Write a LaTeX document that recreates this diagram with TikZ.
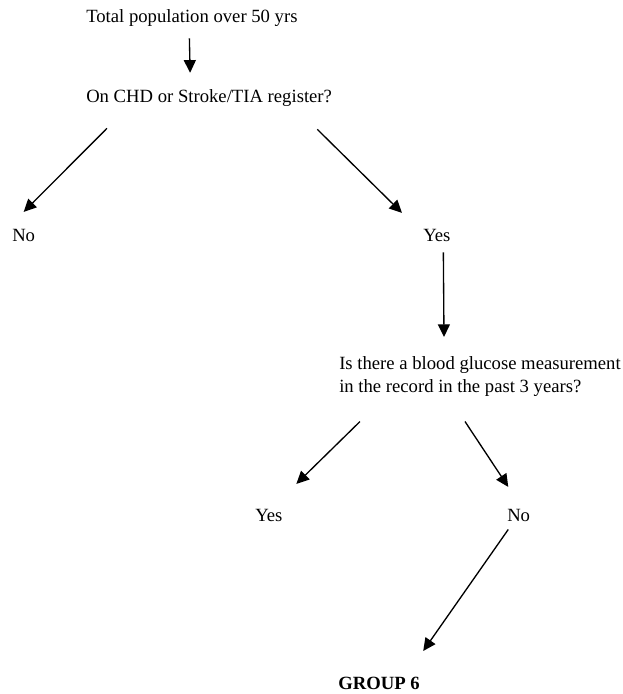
\documentclass[tikz,border=0pt]{standalone}
\usepackage{fontspec}
\setmainfont{Liberation Serif}
\usetikzlibrary{arrows.meta,calc}
\tikzstyle{txt}=[inner sep=0pt, anchor=base west, font=\fontsize{14}{17.25}\selectfont]
\tikzstyle{edge}=[line width=1pt, -{Triangle[length=9.5pt, width=9pt]}]

\begin{document}
\begin{tikzpicture}[x=0.75pt, y=-0.75pt]
            \useasboundingbox (0,0) rectangle (623,694);
            \node[txt] (top) at (86,22) {Total population over 50 yrs};
            \node[txt] (reg) at (86,102) {On CHD or Stroke/TIA register?};
            \node[txt] (no1) at (12,241) {No};
            \node[txt] (yes1) at (423,241) {Yes};
            \node[txt, anchor=north west, align=left] (glu) at (339,356) {Is there a blood glucose measurement\\in the record in the past 3 years?};
            \node[txt] (yes2) at (255,521) {Yes};
            \node[txt] (no2) at (507,521) {No};
            \node[txt, font=\fontsize{14}{17.25}\selectfont\bfseries] (grp) at (338,689) {GROUP 6};
            \draw[edge] ($(top.south)+(-2.5,12)$) -- ($(reg.north)+(-19,-16)$);
            \draw[edge] ($(reg.south west)+(21,22)$) -- ($(no1.north)+(0,-16.6)$);
            \draw[edge] ($(reg.south east)+(-15,23)$) -- ($(yes1.north west)+(-21,-15.6)$);
            \draw[edge] ($(yes1.south)+(6.5,11)$) -- ($(glu.north west)+(105,-19)$);
            \draw[edge] ($(glu.south west)+(21,25)$) -- ($(yes2.north)+(27.5,-24.6)$);
            \draw[edge] ($(glu.south west)+(126,25)$) -- ($(no2.north)+(-10.4,-21.6)$);
            \draw[edge] ($(no2.south)+(-10.4,8)$) -- ($(grp.north)+(44.25,-25.4)$);
	    \end{tikzpicture}
\end{document}
